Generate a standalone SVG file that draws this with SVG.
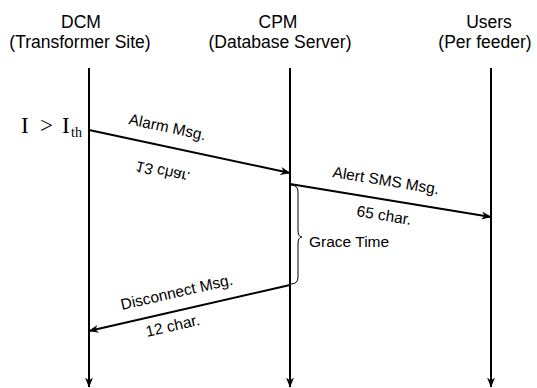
<svg xmlns="http://www.w3.org/2000/svg" width="537" height="388" viewBox="0 0 537 388">
<style>
.hdr{font-family:"Liberation Sans",Arial,sans-serif;font-size:17.5px;fill:#000;text-anchor:middle}
.lbl{font-family:"Liberation Sans",Arial,sans-serif;font-size:15.5px;fill:#000}
.math{font-family:"Liberation Serif","Times New Roman",serif;fill:#000}
.life{stroke:#000;stroke-width:2;fill:none}
.msg{stroke:#000;stroke-width:2;fill:none}
</style>
<defs>
<marker id="ah" viewBox="0 0 10 8" refX="9.5" refY="4" markerWidth="10" markerHeight="8" markerUnits="userSpaceOnUse" orient="auto">
<path d="M0,0 L10,4 L0,8 L3,4 Z" fill="#000"/>
</marker>
</defs>
<rect width="537" height="388" fill="#fff"/>
<g id="dcm">
<text class="hdr" x="81" y="28">DCM</text>
<text class="hdr" x="80" y="48">(Transformer Site)</text>
<line class="life" x1="89" y1="68" x2="89" y2="387" marker-end="url(#ah)"/>
<text class="math" x="21" y="133" font-size="23">I</text>
<text class="math" x="40" y="133" font-size="23">&gt;</text>
<text class="math" x="62" y="133" font-size="23">I</text>
<text class="math" x="71" y="137" font-size="14">th</text>
</g>
<g id="cpm">
<text class="hdr" x="278" y="28">CPM</text>
<text class="hdr" x="280" y="48">(Database Server)</text>
<line class="life" x1="290" y1="68" x2="290" y2="387" marker-end="url(#ah)"/>
</g>
<g id="users">
<text class="hdr" x="489" y="28">Users</text>
<text class="hdr" x="485" y="48">(Per feeder)</text>
<line class="life" x1="491" y1="68" x2="491" y2="387" marker-end="url(#ah)"/>
</g>
<g id="connectors">
<line class="msg" x1="89" y1="130" x2="290" y2="173" marker-end="url(#ah)"/>
<text class="lbl" transform="translate(128,124) rotate(12.07)">Alarm Msg.</text>
<text class="lbl" transform="translate(137,161) rotate(12.07) scale(1,-1)">13 char.</text>
<line class="msg" x1="290" y1="184" x2="491" y2="217" marker-end="url(#ah)"/>
<text class="lbl" transform="translate(332,177) rotate(9.32)">Alert SMS Msg.</text>
<text class="lbl" transform="translate(356,216) rotate(9.32)">65 char.</text>
<line class="msg" x1="290" y1="285" x2="89" y2="331" marker-end="url(#ah)"/>
<text class="lbl" transform="translate(122,310) rotate(-12.89)">Disconnect Msg.</text>
<text class="lbl" transform="translate(147,337) rotate(-12.89)">12 char.</text>
</g>
<g id="grace">
<path d="M291,185 Q298,185 298,192 L298,230 Q298,237 302,237 Q298,237 298,244 L298,277 Q298,284 291,284" fill="none" stroke="#000" stroke-width="1"/>
<text class="lbl" x="309" y="247">Grace Time</text>
</g>
</svg>
